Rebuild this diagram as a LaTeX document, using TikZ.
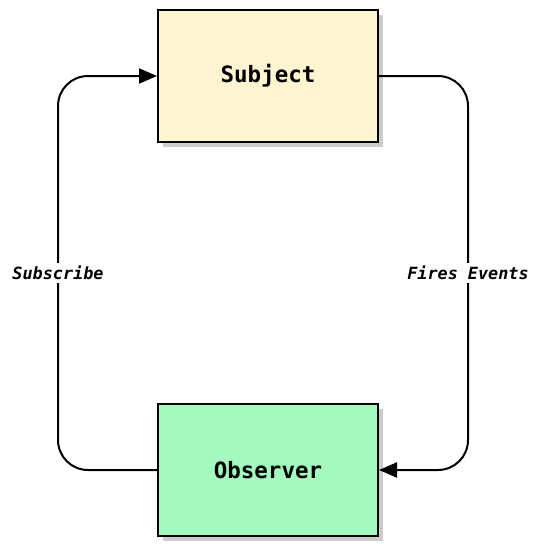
\documentclass[tikz,border=0pt]{standalone}
\usepackage{fontspec}
\setmonofont{DejaVu Sans Mono}
\usepackage{tikz}
\usetikzlibrary{arrows.meta}
\usetikzlibrary{shadows}

\definecolor{subjfill}{HTML}{FEF4D0}
\definecolor{obsfill}{HTML}{A3F9BE}

\tikzset{
  block/.style={draw=black, line width=2pt, minimum width=220pt, minimum height=132pt,
    font=\ttfamily\bfseries\fontsize{22.5}{26}\selectfont,
    drop shadow={shadow xshift=5pt, shadow yshift=-5pt, fill=black!40, opacity=0.5}},
  flow/.style={line width=2pt, rounded corners=30pt, -{Triangle[length=18pt,width=15pt]}},
  tag/.style={fill=white, inner sep=3pt, font=\ttfamily\bfseries\itshape\fontsize{16.8}{19}\selectfont}
}

\begin{document}
\begin{tikzpicture}[x=1pt,y=-1pt]
  \useasboundingbox (0,0) rectangle (542,558);
  \node[block, fill=subjfill] (subject) at (268,76) {Subject};
  \node[block, fill=obsfill] (observer) at (268,470) {Observer};
  % observer registers with subject
  \draw[flow] (observer.west) -- (58,470) -- node[tag] {Subscribe} (58,76) -- (subject.west);
  % subject notifies observer
  \draw[flow] (subject.east) -- (468,76) -- node[tag] {Fires Events} (468,470) -- (observer.east);
\end{tikzpicture}
\end{document}
